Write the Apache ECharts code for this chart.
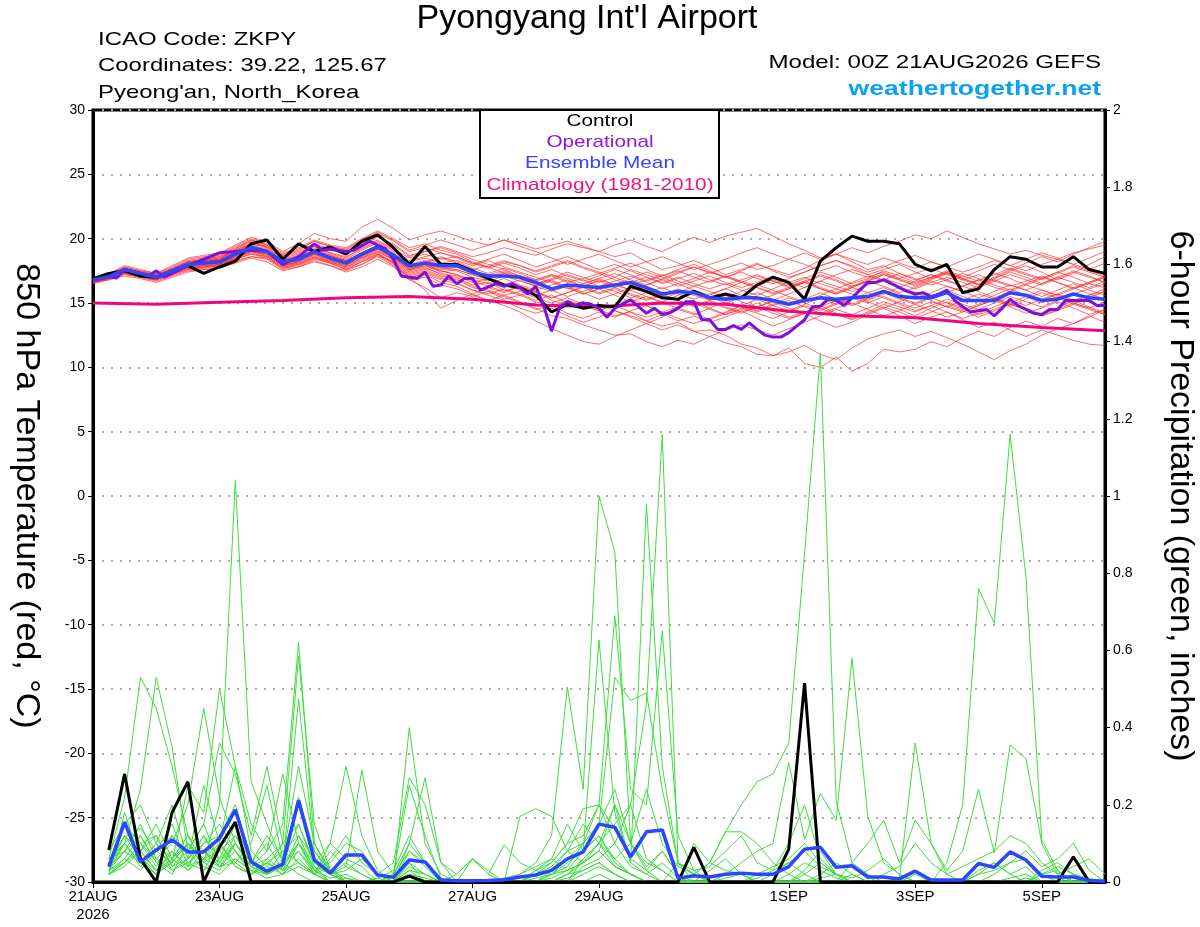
<!DOCTYPE html>
<html><head><meta charset="utf-8">
<script src="https://cdn.jsdelivr.net/npm/echarts@6.0.0/dist/echarts.min.js"></script>
<style>html,body{margin:0;padding:0;background:#fff}#c{width:1200px;height:927px}</style>
</head><body><div id="c"></div>
<script>
// ---- x axis (hours after 00Z 21AUG2026, 6-hourly) ----
const xTickHours = [0, 48, 96, 144, 192, 264, 312, 360];
const xTickLabels = ['21AUG\n2026', '23AUG', '25AUG', '27AUG', '29AUG', '1SEP', '3SEP', '5SEP'];

// ---- 850 hPa temperature (°C), index i -> hour 6*i ----
const controlTemp = [16.9,17.3,17.5,17.1,17.0,17.5,17.9,17.3,17.8,18.25,
  19.6,19.9,18.4,19.6,19.0,19.35,18.8,19.8,20.3,19.3,
  18.0,19.4,18.0,18.0,17.5,16.9,16.4,16.2,15.6,14.3,
  14.9,14.6,14.8,14.7,16.3,15.9,15.4,15.3,15.9,15.4,
  15.7,15.4,16.4,17.0,16.6,15.3,18.25,19.3,20.2,19.8,
  19.8,19.6,18.0,17.5,18.0,15.8,16.1,17.6,18.6,18.4,
  17.8,17.8,18.6,17.6,17.3];
const meanTemp = [16.8,17.05,17.6,17.3,17.0,17.5,18.0,18.1,18.2,18.8,
  19.3,19.0,18.2,18.4,19.0,18.5,18.1,18.8,19.35,18.7,
  17.9,18.1,17.9,17.9,17.4,17.1,17.1,17.0,16.6,16.1,
  16.4,16.3,16.2,16.4,16.6,16.2,15.7,15.9,15.8,15.4,
  15.3,15.4,15.4,15.2,14.9,15.2,15.4,15.3,15.4,15.5,
  15.9,15.5,15.4,15.4,15.8,15.2,15.2,15.2,15.8,15.6,
  15.2,15.3,15.7,15.4,15.3];
const opHours = [0,6,9,12,18,21,24,27,30,36,42,48,54,60,66,72,78,84,87,90,96,99,105,111,114,117,123,126,129,132,135,138,141,144,147,153,156,159,162,165,168,171,174,177,180,183,186,189,192,195,198,204,210,213,216,219,222,225,228,231,234,237,240,243,246,249,252,255,258,261,264,267,270,273,276,279,282,285,288,291,294,297,300,303,306,309,312,315,318,321,324,327,330,333,336,339,342,345,348,351,354,357,360,363,366,369,372,375,378,381,384];
const opTemp = [16.75,17.05,16.95,17.6,17.3,17.1,17.5,17.0,17.3,17.9,18.4,18.9,19.0,19.1,19.0,18.0,18.6,19.6,19.1,19.2,19.0,19.1,19.8,19.2,18.4,17.1,16.9,17.4,16.3,16.4,17.1,16.5,16.9,16.9,16.0,16.5,16.3,16.5,16.2,15.7,16.3,14.8,12.8,14.6,15.1,14.8,15.0,14.9,14.6,13.9,14.6,15.25,14.2,14.6,14.1,14.25,14.6,15.1,15.1,13.7,13.7,12.95,12.95,13.25,12.95,13.45,12.95,12.5,12.35,12.35,12.7,13.2,13.7,14.7,14.75,15.3,15.2,14.8,15.4,16.0,16.6,16.6,16.8,16.5,16.2,15.9,15.7,15.8,15.5,15.7,16.0,15.2,14.7,14.3,14.4,14.5,14.0,14.6,15.3,14.8,14.5,14.2,14.1,14.5,14.5,15.2,15.2,15.2,15.2,14.8,14.8];
const climHours = [0,24,48,72,96,120,144,168,192,216,240,264,288,312,336,360,384];
const climTemp = [15.0,14.9,15.05,15.2,15.4,15.5,15.3,14.85,14.7,15.0,14.9,14.35,14.0,13.85,13.4,13.1,12.85];

const memberTemp01 = [16.9,17.2,17.8,17.5,17.3,17.9,18.5,18.7,18.9,19.5,20.1,19.8,19.0,19.6,20.4,20.0,19.8,20.9,21.5,20.8,19.9,20.3,20.6,20.2,19.8,19.5,19.9,19.6,19.2,19.5,19.8,19.4,19.0,18.6,18.9,18.2,17.6,17.9,18.3,17.8,17.2,17.6,18.1,17.5,17.0,17.4,17.9,18.3,17.8,17.2,17.6,18.0,17.4,16.9,17.3,16.8,16.4,16.9,17.5,17.9,17.4,16.8,17.3,18.0,18.6];
const memberTemp02 = [16.6,16.9,17.3,17.0,16.8,17.2,17.6,17.7,17.9,18.3,18.6,18.5,17.7,17.9,18.4,18.1,17.6,18.0,18.7,18.2,17.1,17.4,16.9,16.8,16.2,15.9,15.5,15.0,14.6,14.0,13.8,13.3,12.9,12.5,12.6,12.0,11.6,12.1,11.8,12.4,11.9,11.6,11.0,10.9,11.5,10.3,10.0,10.8,9.7,10.3,11.4,11.2,11.4,12.0,11.6,12.3,12.8,12.4,13.1,13.6,13.2,13.8,13.4,14.0,13.5];
const memberTemp03 = [16.7,17.0,17.5,17.2,16.9,17.4,17.8,17.9,18.0,18.6,19.0,18.7,17.9,18.2,18.8,18.3,17.9,18.5,19.0,18.4,17.5,17.8,17.2,17.0,16.4,16.6,16.0,15.6,15.9,15.2,14.8,15.1,14.5,14.0,14.3,13.6,13.2,13.5,12.8,12.9,12.5,11.8,11.5,10.9,11.2,11.7,11.0,10.6,11.5,12.2,12.6,12.9,12.4,12.8,12.3,11.8,11.2,10.6,11.3,11.8,12.5,13.0,13.4,13.9,14.5];
const memberTemp04 = [16.5,16.8,17.1,16.9,16.6,17.0,17.4,17.6,17.7,18.1,18.5,18.2,17.5,17.8,18.2,17.9,17.4,17.8,18.4,17.8,16.8,17.0,16.4,16.1,15.6,15.2,15.6,15.1,14.5,14.8,14.2,13.8,14.3,13.9,14.4,14.8,14.2,13.6,14.0,13.5,13.9,14.4,13.8,13.2,13.7,14.2,13.6,13.1,13.5,14.1,14.6,14.0,13.4,13.9,14.3,13.7,13.1,13.5,12.9,12.4,12.9,12.5,12.1,11.8,11.7];
const memberTemp05 = [16.8,17.1,17.6,17.4,17.1,17.6,18.1,18.3,18.5,19.0,19.6,19.4,18.6,18.9,19.5,19.1,18.8,19.5,20.1,19.6,18.7,19.0,19.4,19.0,18.6,18.9,19.3,19.0,18.7,19.2,19.6,19.3,19.0,19.5,19.9,19.4,19.0,19.6,20.1,19.7,20.2,20.5,20.8,20.2,19.6,19.1,18.5,18.8,18.2,17.6,17.9,17.3,16.8,17.2,16.7,16.3,16.8,16.2,15.9,16.4,16.0,15.6,16.1,16.5,16.2];
const memberTemp06 = [16.9,17.1,17.7,17.3,17.1,17.5,18.0,18.2,18.4,18.8,19.2,19.1,18.3,18.5,19.1,18.7,18.3,18.9,19.5,18.9,18.0,18.3,18.0,17.9,17.4,17.2,17.5,17.1,16.8,17.2,16.9,16.5,16.9,17.3,16.8,16.4,16.9,17.4,17.8,17.3,17.7,18.1,17.6,17.9,18.4,18.9,18.4,18.8,19.3,18.9,19.4,19.8,20.3,20.0,20.6,20.1,19.6,19.2,18.8,19.1,18.7,18.4,18.9,19.2,19.5];
const memberTemp07 = [16.7,17.0,17.6,17.2,17.0,17.6,18.2,18.3,18.4,19.2,19.8,19.3,18.4,18.7,19.4,18.9,18.5,19.3,19.9,19.2,18.5,18.8,18.4,18.6,18.1,17.8,18.2,17.9,17.4,17.8,18.2,17.7,17.3,17.7,18.1,17.6,17.1,17.5,17.0,16.6,17.1,16.7,16.3,16.8,16.4,16.9,17.4,17.0,16.5,16.9,17.5,17.1,16.6,17.0,17.4,16.9,16.5,17.0,17.6,17.2,16.8,17.3,17.8,17.4,17.0];
const memberTemp08 = [16.6,16.9,17.4,17.1,16.8,17.3,17.8,17.9,18.0,18.5,19.0,18.7,17.9,18.1,18.6,18.2,17.8,18.4,18.9,18.1,16.8,16.2,15.4,15.8,15.5,15.9,15.3,15.6,15.1,14.7,15.2,14.8,14.4,14.9,15.3,14.8,14.3,14.7,15.2,14.6,14.1,14.5,15.0,14.4,13.9,14.3,14.8,14.2,13.8,14.3,14.9,14.5,14.0,14.6,15.1,14.6,14.1,14.5,15.0,14.6,14.1,14.6,15.2,15.6,15.9];
const memberTemp09 = [16.8,17.0,17.5,17.3,17.0,17.4,17.9,18.0,18.1,18.7,19.2,18.9,18.1,18.3,18.9,18.5,18.1,18.7,19.2,18.5,17.6,18.0,17.6,17.8,17.3,17.0,17.4,17.0,16.5,16.8,17.2,16.8,16.3,16.7,17.1,16.6,16.1,16.5,16.0,15.6,16.1,16.6,16.2,15.7,16.1,16.6,16.1,15.7,16.2,16.7,16.3,15.8,16.2,16.7,16.3,15.9,16.3,16.8,16.4,16.0,16.5,17.0,16.6,16.2,16.7];
const memberTemp10 = [16.7,16.9,17.4,17.2,16.9,17.3,17.7,17.8,18.0,18.4,18.8,18.6,17.8,18.0,18.5,18.2,17.7,18.2,18.8,18.2,17.2,17.5,17.0,16.6,16.0,15.6,15.2,14.6,14.2,14.6,14.0,13.5,13.9,14.4,14.0,13.6,14.1,14.6,14.2,13.7,14.2,14.8,15.3,14.8,14.4,14.9,15.4,14.9,15.3,15.8,15.4,14.9,14.4,14.8,14.3,13.8,14.2,14.7,15.2,14.8,15.3,15.7,15.2,14.7,14.2];
const memberTemp11 = [16.9,17.3,17.9,17.6,17.3,17.8,18.4,18.6,18.8,19.4,20.0,19.6,18.9,19.3,19.9,19.5,19.3,20.0,20.6,20.0,19.3,19.6,19.1,18.8,18.2,17.8,17.3,16.9,16.4,16.8,16.2,15.7,16.1,15.6,15.1,15.5,15.0,14.6,15.0,14.5,14.1,14.6,14.2,13.8,14.3,14.8,14.4,14.9,15.4,15.0,15.5,15.0,14.6,15.1,14.7,14.3,14.8,15.3,14.9,14.5,14.0,14.4,14.9,14.5,14.1];
const memberTemp12 = [16.8,17.1,17.6,17.3,17.1,17.5,18.0,18.1,18.2,18.9,19.4,19.1,18.2,18.5,19.1,18.6,18.2,18.9,19.5,18.8,17.9,18.2,17.8,17.6,17.2,16.9,17.3,16.9,16.5,16.9,17.4,17.0,16.6,17.0,17.6,17.2,16.8,17.3,17.8,17.4,17.0,17.5,18.0,17.6,17.2,17.7,18.3,18.8,18.4,18.0,18.5,18.1,17.7,18.2,17.8,17.4,17.8,18.3,17.9,17.5,18.0,18.4,18.0,17.6,18.1];
const memberTemp13 = [16.6,16.8,17.2,17.0,16.7,17.1,17.5,17.6,17.8,18.2,18.6,18.4,17.6,17.8,18.3,17.9,17.5,18.0,18.6,17.9,17.0,17.2,16.6,16.3,15.7,15.2,14.8,14.3,13.6,13.0,12.5,12.0,11.8,12.4,12.9,13.4,13.9,14.5,14.1,14.6,15.1,14.7,14.3,14.8,15.2,14.7,14.2,14.6,15.0,14.5,14.0,14.4,14.9,14.4,13.9,14.3,14.8,15.2,14.7,14.2,14.6,15.1,14.6,14.1,14.5];
const memberTemp14 = [16.7,17.0,17.5,17.3,17.0,17.5,18.0,18.2,18.3,18.9,19.4,19.0,18.2,18.4,19.0,18.6,18.2,18.8,19.3,18.6,17.7,18.1,18.5,18.1,17.6,17.9,18.3,17.9,17.5,17.9,18.3,17.8,17.4,17.0,16.5,16.0,15.6,15.2,14.7,15.1,14.6,14.2,14.7,15.2,15.7,16.2,16.7,16.3,15.9,16.4,16.9,16.5,16.1,16.6,17.0,16.6,16.2,16.7,17.2,16.8,16.4,16.9,17.4,17.0,16.6];
const memberTemp15 = [16.8,17.1,17.6,17.4,17.0,17.5,18.1,18.2,18.4,19.0,19.5,19.2,18.4,18.6,19.2,18.8,18.4,19.1,19.7,19.0,18.2,18.5,18.1,18.3,17.9,18.3,17.8,17.4,17.0,16.6,16.1,16.5,16.9,16.4,16.0,15.5,15.1,15.6,16.0,15.5,15.0,15.4,15.8,15.3,14.9,15.3,15.8,15.3,14.9,15.4,15.9,15.4,15.0,15.5,16.0,15.5,15.1,15.6,16.1,15.6,15.2,15.7,16.2,15.7,15.3];
const memberTemp16 = [16.6,16.9,17.3,17.1,16.8,17.2,17.6,17.8,17.9,18.4,18.8,18.5,17.7,18.0,18.5,18.1,17.6,18.2,18.7,18.0,17.0,17.3,16.8,16.5,16.0,15.7,16.1,15.7,15.2,15.6,15.0,14.5,14.9,14.4,13.9,13.4,12.9,13.3,12.8,12.4,12.9,13.3,12.9,12.5,13.0,13.5,14.0,14.5,14.1,14.6,15.1,14.7,14.3,14.8,15.3,14.9,14.5,15.0,15.5,15.1,14.7,15.2,15.7,16.1,16.5];
const memberTemp17 = [16.9,17.2,17.7,17.4,17.2,17.7,18.2,18.4,18.6,19.1,19.7,19.4,18.7,19.0,19.6,19.2,18.9,19.6,20.2,19.5,18.6,19.0,19.3,18.9,18.4,18.0,17.6,17.1,16.7,17.1,16.6,16.9,17.3,16.8,16.4,16.8,17.2,16.7,16.3,16.7,17.1,16.6,16.2,15.8,16.2,16.7,16.2,15.8,16.3,16.8,17.3,16.9,16.5,17.0,17.5,17.1,16.7,17.2,17.7,17.3,16.9,17.4,17.9,17.5,17.1];
const memberTemp18 = [16.7,17.0,17.4,17.2,16.9,17.4,17.9,18.0,18.1,18.6,19.1,18.8,18.0,18.2,18.8,18.4,18.0,18.6,19.1,18.4,17.4,17.7,17.3,17.1,16.6,16.9,16.4,16.0,15.6,16.0,15.5,15.9,16.3,15.9,15.4,15.8,16.2,15.7,15.3,15.7,16.1,15.6,15.2,15.6,16.1,16.6,16.1,15.7,16.2,16.7,17.2,16.8,16.4,16.9,17.4,17.0,17.5,18.0,17.6,18.1,18.6,18.2,18.8,19.3,19.8];
const memberTemp19 = [16.8,17.0,17.5,17.2,17.0,17.5,18.0,18.1,18.3,18.8,19.3,19.0,18.3,18.5,19.0,18.6,18.3,18.9,19.4,18.7,17.8,18.0,17.5,17.2,16.8,16.5,16.9,16.4,16.0,16.4,16.8,16.3,15.8,16.2,15.7,15.3,15.7,15.2,14.8,15.2,14.7,14.3,14.7,14.2,13.8,14.2,14.7,15.2,14.8,15.3,15.8,15.3,14.9,15.4,15.0,14.5,14.9,15.4,15.9,15.5,15.0,15.5,15.0,14.6,15.1];
const memberTemp20 = [16.7,16.9,17.5,17.2,16.9,17.4,18.0,18.1,18.2,18.8,19.3,19.0,18.1,18.4,18.9,18.5,18.1,18.6,19.2,18.6,17.7,18.0,17.7,17.5,17.0,16.7,17.1,16.7,16.3,16.7,16.2,15.7,16.1,16.5,16.0,16.4,16.8,16.3,16.7,17.1,16.6,16.2,16.6,17.1,16.6,16.2,16.7,17.2,17.6,17.2,16.8,17.3,16.9,16.4,16.8,17.3,16.9,16.4,16.0,16.5,17.0,16.6,16.1,16.6,17.1];
const memberTemp21 = [16.6,16.9,17.3,17.0,16.8,17.3,17.7,17.8,18.0,18.5,18.9,18.6,17.8,18.1,18.6,18.2,17.8,18.3,18.8,18.1,17.0,16.0,14.6,15.2,15.7,16.2,15.8,16.3,15.9,15.4,15.8,16.3,16.8,16.4,16.9,17.4,17.0,16.5,16.9,17.4,17.0,16.6,17.1,16.7,16.2,16.6,17.1,16.7,16.2,15.8,16.2,15.7,15.3,15.8,16.3,15.9,15.4,15.9,16.4,16.0,15.5,16.0,16.5,16.0,15.6];
const memberTemp22 = [16.8,17.1,17.7,17.4,17.1,17.6,18.2,18.4,18.6,19.2,19.9,19.5,18.7,19.1,19.8,19.4,19.1,19.9,20.5,19.9,19.1,19.5,19.9,19.5,19.1,19.5,19.9,19.4,19.0,18.5,18.0,18.4,18.8,18.3,17.8,18.2,18.6,18.1,17.6,18.0,18.4,18.9,19.3,18.8,18.4,18.0,17.5,17.9,17.4,17.0,17.4,16.9,17.3,17.7,17.2,16.8,17.2,16.7,16.3,16.7,17.1,16.6,16.2,16.6,17.0];
const memberTemp23 = [16.7,17.0,17.5,17.2,17.0,17.4,17.9,18.1,18.2,18.7,19.2,18.9,18.0,18.3,18.8,18.4,18.0,18.7,19.2,18.5,17.6,17.9,17.4,17.6,17.2,16.8,16.4,16.8,16.3,15.9,16.3,15.8,15.3,15.7,16.2,15.8,15.3,15.8,16.3,15.9,15.4,15.9,16.4,16.0,15.5,15.1,15.6,16.1,15.7,15.2,15.7,16.2,15.8,15.3,15.8,16.3,15.9,15.4,15.0,15.5,16.0,15.6,15.1,15.6,16.1];
const memberTemp24 = [16.8,17.2,17.7,17.4,17.2,17.6,18.2,18.3,18.5,19.1,19.6,19.3,18.5,18.8,19.3,18.9,18.6,19.2,19.8,19.1,18.3,18.6,18.9,18.5,18.0,18.4,18.8,18.3,17.8,18.2,18.6,18.1,17.6,18.0,17.5,17.0,16.6,17.0,16.5,16.1,16.5,16.0,15.6,16.1,16.6,17.0,16.5,16.1,16.6,17.1,16.7,16.2,16.7,17.2,16.8,16.3,16.8,17.3,16.9,16.4,16.9,17.4,17.0,16.5,17.0];
const memberTemp25 = [16.6,16.9,17.4,17.1,16.8,17.3,17.8,17.9,18.1,18.5,19.0,18.8,17.9,18.2,18.7,18.3,17.9,18.5,19.0,18.3,17.3,17.6,17.1,16.9,16.3,16.0,15.6,15.9,15.4,15.0,15.4,14.9,14.4,14.8,14.3,13.9,14.3,13.8,13.4,13.8,14.3,14.8,14.4,14.9,15.4,15.0,14.5,15.0,15.5,15.1,14.6,15.1,15.6,15.2,14.7,15.2,15.7,15.3,14.8,15.3,15.8,15.4,14.9,15.4,15.9];
const memberTemp26 = [16.9,17.2,17.8,17.5,17.2,17.7,18.3,18.5,18.7,19.3,19.9,19.5,18.8,19.2,19.8,19.4,19.2,19.9,20.4,19.8,19.0,19.3,18.9,18.6,18.1,17.7,18.1,17.7,17.2,17.6,17.1,16.7,17.1,17.6,17.2,16.7,17.1,17.6,18.0,17.5,17.0,17.4,16.9,16.5,16.9,17.4,17.9,18.3,17.9,17.4,17.8,18.3,18.7,18.2,17.8,18.3,18.8,18.4,17.9,18.4,18.9,18.5,18.0,18.5,19.0];
const memberTemp27 = [16.7,17.0,17.5,17.2,16.9,17.5,18.0,18.1,18.3,18.8,19.3,18.9,18.1,18.4,19.0,18.5,18.1,18.7,19.3,18.6,17.6,17.9,17.5,17.2,16.7,16.3,15.9,16.3,15.8,15.4,15.8,16.2,15.7,16.1,15.6,15.2,15.6,16.1,15.6,15.2,15.6,15.1,14.7,15.1,14.6,14.2,14.6,14.1,13.7,14.2,14.7,14.3,13.8,14.3,14.8,14.4,13.9,14.4,14.9,14.5,14.0,14.5,15.0,14.6,14.1];
const memberTemp28 = [16.8,17.1,17.6,17.3,17.0,17.6,18.1,18.2,18.4,19.0,19.5,19.1,18.3,18.6,19.1,18.7,18.3,18.9,19.5,18.8,17.9,18.2,18.6,18.2,17.7,17.3,17.7,17.3,16.8,17.2,16.7,16.3,16.7,16.2,16.6,17.0,16.5,16.9,17.3,16.8,16.4,16.8,17.2,16.7,16.3,16.7,17.2,16.8,16.3,16.7,17.2,16.8,16.3,16.8,17.3,16.9,16.4,16.9,17.4,17.0,16.5,17.0,17.5,17.1,16.6];

// ---- 6-hour precipitation (inches), index i -> hour 6*(i+1) ----
const controlPrecip = [0.083,0.28,0.06,0,0.18,0.26,0,0.09,0.155,0,0,0,0,0,0,0,0,0,0,0.015,0,0,0,0,0,0,0,0,0,0,0,0,0,0,0,0,0,0.09,0,0,0,0,0,0.085,0.515,0,0,0,0,0,0,0,0,0,0,0,0,0,0,0,0,0.065,0,0];
const meanPrecip = [0.04,0.155,0.052,0.083,0.109,0.078,0.078,0.113,0.187,0.052,0.028,0.046,0.212,0.057,0.023,0.07,0.07,0.018,0.012,0.057,0.052,0.005,0.003,0.003,0.004,0.006,0.013,0.018,0.03,0.06,0.078,0.15,0.142,0.065,0.13,0.135,0.01,0.016,0.013,0.02,0.023,0.02,0.02,0.04,0.085,0.09,0.038,0.042,0.013,0.013,0.008,0.028,0.005,0.005,0.005,0.048,0.038,0.078,0.057,0.015,0.013,0.013,0.004,0.002];
const memberPrecip01 = [0.05,0.12,0.08,0.03,0.06,0.10,0.05,0.20,1.04,0.26,0.15,0.05,0.02,0,0,0.01,0,0,0,0.02,0.01,0,0,0,0,0,0,0.01,0.02,0.05,0.08,0.12,0.05,0.02,0,0,0,0,0,0,0,0,0,0.02,0.05,0.03,0.01,0,0,0,0,0,0,0,0,0,0,0.01,0.02,0,0,0,0,0];
const memberPrecip02 = [0.02,0.18,0.05,0.02,0.08,0.04,0.12,0.06,0.10,0.04,0.08,0.15,0.62,0.10,0.02,0,0,0.01,0,0.05,0.02,0,0,0,0,0,0,0.02,0.05,0.10,0.19,0.20,0.14,0.06,0.03,0.08,0.02,0,0,0.01,0.02,0,0,0,0.03,0.08,0.02,0,0,0,0,0,0,0,0,0.02,0.05,0.02,0,0,0,0,0,0];
const memberPrecip03 = [0.06,0.22,0.53,0.45,0.30,0.12,0.05,0.08,0.04,0.02,0.06,0.10,0.585,0.15,0.03,0.01,0,0,0.02,0.08,0.04,0,0,0,0,0,0,0,0.03,0.08,0.05,0.10,0.04,0.02,0,0,0,0,0,0,0,0.01,0.03,0.05,0.02,0,0,0,0,0,0,0,0,0,0,0,0,0,0,0.02,0.03,0,0,0];
const memberPrecip04 = [0.03,0.10,0.24,0.53,0.35,0.08,0.15,0.05,0.12,0.06,0.02,0.04,0.475,0.08,0.02,0,0,0.01,0.03,0.12,0.05,0,0,0,0,0,0,0.03,0.06,0.15,0.08,0.627,0.18,0.05,0.02,0,0,0,0,0,0,0,0,0,0,0.01,0.02,0,0,0,0,0,0,0,0,0,0,0,0.01,0,0,0,0,0];
const memberPrecip05 = [0.04,0.08,0.15,0.06,0.10,0.20,0.45,0.22,0.10,0.05,0.12,0.06,0.20,0.05,0.10,0.30,0.12,0.03,0,0.02,0,0,0,0,0,0,0,0,0.02,0.04,0.10,0.15,0.53,0.47,0.49,0.24,0.05,0,0,0,0,0,0,0,0,0,0,0,0,0,0,0,0,0,0,0,0,0,0,0,0,0,0,0];
const memberPrecip06 = [0.08,0.15,0.06,0.02,0.05,0.25,0.18,0.50,0.30,0.08,0.04,0.10,0.15,0.05,0.02,0.04,0.29,0.08,0.02,0.25,0.12,0.01,0,0,0,0,0,0,0,0.02,0.05,0.08,0.04,0.02,0,0,0,0,0,0,0,0,0,0,0,0.02,0.05,0.02,0,0,0,0,0,0,0,0,0,0,0,0,0,0,0,0];
const memberPrecip07 = [0.02,0.05,0.10,0.12,0.04,0.08,0.15,0.36,0.28,0.12,0.30,0.10,0.05,0.02,0.06,0.12,0.05,0.02,0,0.40,0.10,0.02,0,0,0,0,0,0,0,0.01,0.03,0.05,0.02,0,0,0,0,0,0,0,0,0,0,0,0,0,0,0,0,0,0,0,0,0,0,0,0,0,0,0,0,0,0,0];
const memberPrecip08 = [0.05,0.10,0.04,0.08,0.12,0.05,0.03,0.10,0.30,0.15,0.08,0.28,0.10,0.02,0,0,0,0,0,0.03,0.02,0,0,0,0,0.01,0.02,0.05,0.12,0.505,0.24,1.00,0.855,0.10,0.03,0,0,0,0,0,0,0,0,0,0,0,0,0,0,0,0,0,0,0,0,0,0,0,0,0,0,0,0,0];
const memberPrecip09 = [0.03,0.06,0.12,0.05,0.02,0.10,0.06,0.04,0.08,0.02,0.05,0.03,0.12,0.06,0.02,0,0,0,0,0.10,0.05,0,0,0,0,0,0,0.02,0.04,0.08,0.15,0.10,0.20,0.05,0.98,0.30,0.05,0.02,0,0,0,0,0,0,0,0,0,0,0,0,0,0,0,0,0,0,0,0,0,0,0,0,0,0];
const memberPrecip10 = [0.04,0.12,0.06,0.03,0.08,0.04,0.10,0.12,0.20,0.06,0.03,0.05,0.15,0.04,0.02,0.05,0.02,0,0,0,0,0,0,0.06,0.02,0,0,0.03,0.05,0.10,0.12,0.20,0.10,0.20,0.46,1.16,0.05,0.02,0,0,0,0,0,0,0,0,0,0,0,0,0,0,0,0,0,0,0,0,0,0,0,0,0,0];
const memberPrecip11 = [0.02,0.05,0.08,0.15,0.06,0.03,0.08,0.05,0.10,0.04,0.02,0.06,0.22,0.08,0.03,0,0,0,0,0.05,0,0,0,0,0,0,0.17,0.19,0.17,0.08,0.10,0.20,0.69,0.24,0.20,0.65,0.12,0.03,0,0,0,0,0,0,0,0,0,0,0,0,0,0,0,0,0,0,0,0,0,0,0,0,0,0];
const memberPrecip12 = [0.03,0.08,0.05,0.10,0.03,0.06,0.12,0.04,0.06,0.03,0.02,0.05,0.10,0.03,0,0,0,0,0,0,0,0,0,0,0,0,0,0,0.01,0.03,0.05,0.08,0.04,0.02,0,0,0,0.02,0.05,0.13,0.20,0.26,0.28,0.36,0.85,1.37,0.21,0.05,0.02,0,0,0,0,0,0,0,0,0,0,0,0,0,0,0];
const memberPrecip13 = [0.05,0.15,0.10,0.04,0.12,0.08,0.03,0.06,0.15,0.05,0.10,0.03,0.08,0.02,0.04,0,0,0,0,0.02,0,0,0,0,0,0,0,0,0,0.02,0.06,0.10,0.06,0.02,0,0,0,0,0,0.02,0.05,0.08,0.10,0.31,0.11,0.23,0.16,0.58,0.17,0.05,0.02,0,0,0,0,0,0,0,0,0,0,0,0,0];
const memberPrecip14 = [0.02,0.06,0.03,0.08,0.15,0.04,0.06,0.10,0.04,0.02,0.05,0.02,0.10,0.04,0,0,0,0,0,0,0,0,0,0,0,0,0,0,0,0.02,0.03,0.05,0.02,0,0,0,0,0,0,0,0,0,0,0,0.02,0.05,0.02,0,0,0,0,0,0,0.05,0.20,0.76,0.67,1.16,0.79,0.11,0.03,0,0,0];
const memberPrecip15 = [0.04,0.10,0.05,0.02,0.06,0.12,0.05,0.03,0.10,0.04,0.02,0.08,0.05,0.02,0,0,0,0,0,0.03,0,0,0,0,0,0,0,0,0,0,0.02,0.04,0.02,0,0,0,0,0,0,0,0,0,0,0,0,0,0,0.02,0,0,0.01,0.36,0.10,0.03,0.08,0.24,0.075,0.355,0.32,0.10,0.02,0,0,0];
const memberPrecip16 = [0.03,0.05,0.10,0.06,0.03,0.05,0.08,0.04,0.05,0.02,0.04,0.02,0.06,0.02,0.10,0.06,0.04,0,0,0,0,0,0.02,0.06,0.03,0,0,0,0,0,0,0.02,0,0,0,0,0,0.10,0.05,0.13,0.13,0.10,0.05,0.02,0,0,0,0.05,0.10,0.16,0.05,0.16,0.10,0.02,0,0,0.02,0.05,0.08,0.04,0.06,0.10,0.03,0];
const memberPrecip17 = [0.06,0.08,0.12,0.05,0.08,0.03,0.06,0.08,0.12,0.05,0.03,0.05,0.08,0.03,0.05,0.10,0.08,0.02,0.05,0.27,0.20,0.05,0,0,0,0,0,0,0.02,0.03,0.05,0.08,0.20,0.10,0.05,0.03,0,0,0,0,0,0,0,0,0,0,0,0,0,0,0,0,0,0,0,0.02,0.03,0.05,0.06,0.02,0,0,0,0];
const memberPrecip18 = [0.02,0.04,0.08,0.03,0.05,0.10,0.04,0.02,0.06,0.03,0.01,0.02,0.04,0.02,0,0,0,0,0.02,0.10,0.27,0.05,0.02,0.06,0.02,0.096,0.05,0.03,0.02,0.06,0.10,0.15,0.24,0.10,0.24,0.10,0.04,0.02,0.05,0.03,0.02,0,0,0,0,0,0,0,0,0,0,0,0,0,0,0,0,0,0,0,0,0,0,0];
const memberPrecip19 = [0.05,0.12,0.08,0.12,0.04,0.06,0.10,0.15,0.08,0.04,0.06,0.03,0.05,0.02,0.08,0.04,0.02,0,0,0,0,0,0,0,0,0,0,0,0,0,0,0,0,0,0,0,0.05,0.03,0.04,0.08,0.12,0.05,0.03,0.10,0.20,0.06,0.02,0,0,0.02,0.04,0.10,0.05,0.02,0.04,0.06,0.08,0.12,0.10,0.05,0.02,0.04,0.06,0.02];
const memberPrecip20 = [0.03,0.15,0.20,0.10,0.20,0.06,0.25,0.10,0.05,0.10,0.25,0.06,0.30,0.10,0.03,0,0,0,0,0,0,0,0,0,0,0,0,0,0,0,0.06,0.10,0.15,0.20,0.06,0.03,0,0,0,0,0,0,0,0,0,0,0,0,0,0,0,0,0,0,0,0,0,0,0,0.03,0.05,0.02,0,0];
const memberPrecip21 = [0.04,0.08,0.05,0.10,0.06,0.12,0.08,0.04,0.10,0.05,0.02,0.04,0.10,0.05,0.02,0.03,0.06,0.02,0,0.04,0.02,0,0,0,0,0,0.02,0.04,0.06,0.03,0.08,0.12,0.06,0.10,0.04,0.08,0.02,0,0.03,0.06,0.02,0,0.02,0.05,0.08,0.04,0.02,0,0,0,0,0.02,0,0,0,0.03,0.05,0.02,0.04,0,0,0.02,0.01,0];
const memberPrecip22 = [0.06,0.10,0.14,0.08,0.05,0.10,0.06,0.12,0.08,0.03,0.05,0.08,0.12,0.03,0.01,0.02,0,0,0,0.08,0.05,0.01,0,0,0,0,0,0,0,0,0.04,0.06,0.10,0.04,0.02,0.05,0.01,0,0,0,0,0.02,0.04,0.06,0.10,0.05,0.02,0.01,0.03,0.06,0.02,0,0,0,0,0,0,0,0,0.02,0.04,0.02,0,0];

const tempMembers = [memberTemp01,memberTemp02,memberTemp03,memberTemp04,memberTemp05,memberTemp06,memberTemp07,memberTemp08,memberTemp09,memberTemp10,memberTemp11,memberTemp12,memberTemp13,memberTemp14,memberTemp15,memberTemp16,memberTemp17,memberTemp18,memberTemp19,memberTemp20,memberTemp21,memberTemp22,memberTemp23,memberTemp24,memberTemp25,memberTemp26,memberTemp27,memberTemp28];
const precipMembers = [memberPrecip01,memberPrecip02,memberPrecip03,memberPrecip04,memberPrecip05,memberPrecip06,memberPrecip07,memberPrecip08,memberPrecip09,memberPrecip10,memberPrecip11,memberPrecip12,memberPrecip13,memberPrecip14,memberPrecip15,memberPrecip16,memberPrecip17,memberPrecip18,memberPrecip19,memberPrecip20,memberPrecip21,memberPrecip22];

// ---- build chart ----
const FONT = 'Liberation Sans, Arial, sans-serif';
const tempPairs = arr => arr.map((v, i) => [i * 6, v]);
const precipPairs = arr => arr.map((v, i) => [(i + 1) * 6, v]);
const line = (data, yAxisIndex, color, width, z) => ({
  type: 'line', data, yAxisIndex, xAxisIndex: 0, symbol: 'none', silent: true,
  lineStyle: { color, width }, z, animation: false, clip: true
});

const series = [];
tempMembers.forEach(m => series.push(line(tempPairs(m), 0, 'rgba(255,45,45,0.7)', 1, 2)));
precipMembers.forEach(m => series.push(line(precipPairs(m), 1, '#3fdc3f', 1, 3)));
series.push(line(precipPairs(controlPrecip), 1, '#000000', 3, 4));
series.push(line(precipPairs(meanPrecip), 1, '#2a46ff', 3.5, 5));
series.push(line(climHours.map((h, i) => [h, climTemp[i]]), 0, '#ee0582', 3, 6));
series.push(line(tempPairs(controlTemp), 0, '#000000', 3, 7));
series.push(line(opHours.map((h, i) => [h, opTemp[i]]), 0, '#7d10dd', 3, 8));
series.push(line(tempPairs(meanTemp), 0, '#2a46ff', 3.5, 9));

const txt = (text, x, y, size, color, align, opts) => Object.assign({
  type: 'text', x, y, z: 100, silent: true,
  style: { text, fill: color, font: size + 'px ' + FONT, textAlign: align, textVerticalAlign: 'middle' }
}, opts || {});

const chart = echarts.init(document.getElementById('c'), null, { renderer: 'canvas' });
chart.setOption({
  animation: false,
  backgroundColor: '#ffffff',
  grid: { left: 93, right: 95, top: 110, bottom: 45, containLabel: false, outerBoundsMode: 'none',
    show: true, borderColor: '#000', borderWidth: 3, backgroundColor: 'transparent' },
  xAxis: {
    type: 'value', min: 0, max: 384,
    axisLine: { show: true, onZero: false, lineStyle: { color: '#000', width: 3 } },
    axisTick: { show: true, customValues: xTickHours, length: 6, lineStyle: { color: '#000', width: 1 } },
    axisLabel: {
      customValues: xTickHours, margin: 6, color: '#000', fontFamily: FONT, fontSize: 15, lineHeight: 18,
      formatter: v => { const k = xTickHours.indexOf(v); return k >= 0 ? xTickLabels[k] : ''; }
    },
    splitLine: { show: false }
  },
  yAxis: [
    {
      type: 'value', min: -30, max: 30, interval: 5, position: 'left',
      name: '850 hPa Temperature (red, °C)', nameLocation: 'middle', nameRotate: -90, nameGap: 50,
      nameTextStyle: { fontFamily: FONT, fontSize: 34, color: '#000' },
      axisLine: { show: true, lineStyle: { color: '#000', width: 3 } },
      axisTick: { show: true, length: 5, lineStyle: { color: '#000', width: 1 } },
      axisLabel: { margin: 8, color: '#000', fontFamily: FONT, fontSize: 14 },
      splitLine: { show: true, lineStyle: { color: '#ababab', width: 2, type: [2, 7] } }
    },
    {
      type: 'value', min: 0, max: 2, interval: 0.2, position: 'right',
      name: '6-hour Precipitation (green, inches)', nameLocation: 'middle', nameRotate: -90, nameGap: 58,
      nameTextStyle: { fontFamily: FONT, fontSize: 34, color: '#000' },
      axisLine: { show: true, lineStyle: { color: '#000', width: 3 } },
      axisTick: { show: true, length: 5, lineStyle: { color: '#000', width: 1 } },
      axisLabel: { margin: 8, color: '#000', fontFamily: FONT, fontSize: 14 },
      splitLine: { show: false }
    }
  ],
  graphic: [
    txt("Pyongyang Int'l Airport", 587, 19, 34, '#000', 'center'),
    txt('ICAO Code: ZKPY', 98, 40, 19, '#000', 'left', { scaleX: 1.26 }),
    txt('Coordinates: 39.22, 125.67', 98, 66, 19, '#000', 'left', { scaleX: 1.26 }),
    txt("Pyeong'an, North_Korea", 98, 93, 19, '#000', 'left', { scaleX: 1.26 }),
    txt('Model: 00Z 21AUG2026 GEFS', 1101, 63, 19, '#000', 'right', { scaleX: 1.27 }),
    { type: 'text', x: 1101, y: 89, z: 100, silent: true, scaleX: 1.265,
      style: { text: 'weathertogether.net', fill: '#0aa0f5', font: 'bold 21px ' + FONT, textAlign: 'right', textVerticalAlign: 'middle' } },
    { type: 'rect', z: 99, silent: true, shape: { x: 480, y: 110, width: 239, height: 88 },
      style: { fill: '#fff', stroke: '#000', lineWidth: 2 } },
    txt('Control', 600, 121, 17, '#000', 'center', { scaleX: 1.22 }),
    txt('Operational', 600, 142, 17, '#8a17e6', 'center', { scaleX: 1.22 }),
    txt('Ensemble Mean', 600, 163, 17, '#3344ff', 'center', { scaleX: 1.22 }),
    txt('Climatology (1981-2010)', 600, 185, 17, '#f0147f', 'center', { scaleX: 1.22 })
  ],
  series
});
</script></body></html>
